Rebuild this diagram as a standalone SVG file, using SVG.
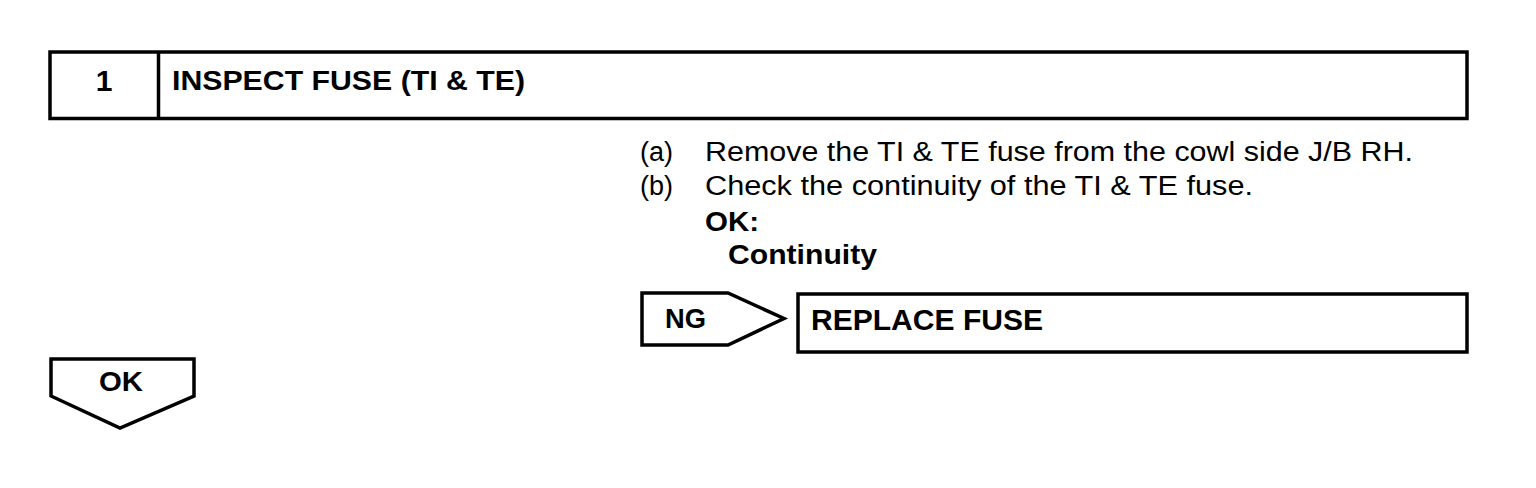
<svg xmlns="http://www.w3.org/2000/svg" width="1536" height="488" viewBox="0 0 1536 488">
<style>
.box{fill:#fff;stroke:#000;stroke-width:3.5}
.line{fill:none;stroke:#000;stroke-width:3.5}
.r{font-family:"Liberation Sans",Arial,sans-serif;font-size:27px;fill:#000}
.b{font-family:"Liberation Sans",Arial,sans-serif;font-size:27px;font-weight:bold;fill:#000}
</style>
<rect width="1536" height="488" fill="#fff"/>
<g id="step1">
<rect class="box" x="50" y="52" width="1417" height="66.5"/>
<line class="line" x1="158.5" y1="52" x2="158.5" y2="118.5"/>
<text class="b" x="104" y="91" text-anchor="middle" style="font-size:30px">1</text>
<text class="b" x="172" y="90" textLength="353" lengthAdjust="spacingAndGlyphs">INSPECT FUSE (TI &amp; TE)</text>
</g>
<g id="instructions">
<text class="r" x="640" y="161">(a)</text>
<text class="r" x="705" y="161" textLength="708" lengthAdjust="spacingAndGlyphs">Remove the TI &amp; TE fuse from the cowl side J/B RH.</text>
<text class="r" x="640" y="195">(b)</text>
<text class="r" x="705" y="195" textLength="548" lengthAdjust="spacingAndGlyphs">Check the continuity of the TI &amp; TE fuse.</text>
<text class="b" x="705" y="231" textLength="54" lengthAdjust="spacingAndGlyphs">OK:</text>
<text class="b" x="728" y="264" textLength="149" lengthAdjust="spacingAndGlyphs">Continuity</text>
</g>
<g id="connectors">
<g id="ng-arrow">
<polygon class="box" points="642,293 728,293 784,318.5 728,345 642,345"/>
<text class="b" x="665" y="328" textLength="41" lengthAdjust="spacingAndGlyphs">NG</text>
</g>
<g id="ok-arrow">
<polygon class="box" points="51,359 194,359 194,396 120,428 51,396"/>
<text class="b" x="99" y="391" textLength="44" lengthAdjust="spacingAndGlyphs">OK</text>
</g>
</g>
<g id="replace-fuse">
<rect class="box" x="798" y="294" width="669" height="58"/>
<text class="b" x="811" y="330" style="font-size:29px" textLength="232" lengthAdjust="spacingAndGlyphs">REPLACE FUSE</text>
</g>
</svg>
